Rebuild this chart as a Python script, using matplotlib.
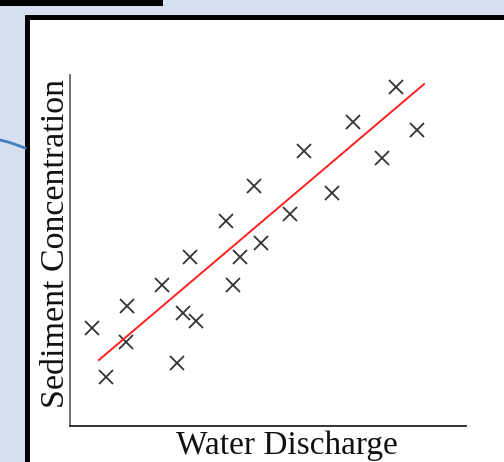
import matplotlib
matplotlib.use("Agg")
import matplotlib.pyplot as plt
from matplotlib.patches import Rectangle
from matplotlib.lines import Line2D

# Data (arbitrary units)
water_discharge = [0.56, 0.91, 1.44, 1.41, 2.32, 2.70, 2.85, 3.03, 3.18, 3.94, 4.12,
                   4.29, 4.65, 4.82, 5.56, 5.91, 6.62, 7.15, 7.88, 8.23, 8.76]
sediment_conc = [2.79, 1.40, 3.42, 2.39, 4.02, 1.79, 3.22, 4.81, 2.99, 5.84, 4.02,
                 4.81, 6.84, 5.21, 6.04, 7.83, 6.64, 8.66, 7.64, 9.66, 8.43]
fit_x = [0.73, 8.94]
fit_y = [1.88, 9.74]
x_label = "Water Discharge"
y_label = "Sediment Concentration"

W, H = 504, 462
fig = plt.figure(figsize=(W / 100, H / 100), dpi=100)
fig.patch.set_facecolor("#D6E0F0")

def fx(px):
    return px / W

def fy(py):
    return 1 - py / H

# decorative screenshot elements
fig.patches.append(Rectangle((0, fy(6)), fx(163), 6 / H, transform=fig.transFigure,
                             facecolor="black", edgecolor="none", zorder=-3))
fig.patches.append(Rectangle((fx(25), 0), 1, fy(15), transform=fig.transFigure,
                             facecolor="black", edgecolor="none", zorder=-3))
fig.patches.append(Rectangle((fx(30), 0), 1, fy(20), transform=fig.transFigure,
                             facecolor="white", edgecolor="none", zorder=-2))
fig.lines.append(Line2D([0, fx(8), fx(17), fx(25)], [fy(140), fy(142), fy(145), fy(148)],
                        transform=fig.transFigure, color="#3F7FC4", lw=2, zorder=-1))

ax = fig.add_axes([fx(70), fy(426), 396 / W, 351 / H])
ax.set_zorder(5)
ax.set_facecolor("none")
ax.set_xlim(0, 10)
ax.set_ylim(0, 10)
for s in ["top", "right"]:
    ax.spines[s].set_visible(False)
ax.spines["left"].set_color("#666666")
ax.spines["bottom"].set_color("#222222")
ax.spines["left"].set_linewidth(1.3)
ax.spines["bottom"].set_linewidth(1.3)
ax.set_xticks([])
ax.set_yticks([])

ax.plot(water_discharge, sediment_conc, linestyle="none", marker="x",
        markersize=10, markeredgewidth=1.3, color="#333333", clip_on=False)
ax.plot(fit_x, fit_y, color="#FF2020", lw=1.4)

fig.text(fx(287), fy(454), x_label, ha="center", va="baseline",
         fontsize=24, family="Liberation Serif", color="#111111")
fig.text(fx(56), fy(243), y_label, ha="center", va="center", rotation=90,
         fontsize=24.5, family="Liberation Serif", color="#111111")

fig.savefig("out.png", dpi=100, facecolor=fig.get_facecolor())
